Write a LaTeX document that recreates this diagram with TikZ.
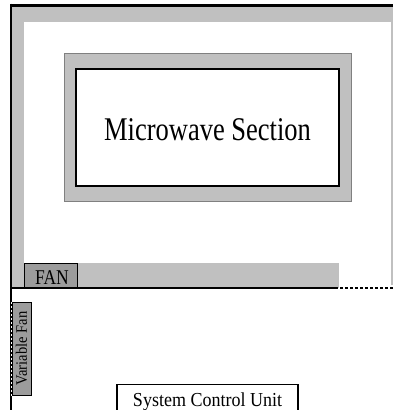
\documentclass[tikz,border=0pt]{standalone}
\usepackage{fontspec}
\setmainfont{Liberation Serif}
\definecolor{lgray}{HTML}{C0C0C0}
\definecolor{dgray}{HTML}{9C9C9C}
\tikzset{
  frame/.style={line width=3pt,black},
  band/.style={fill=lgray,draw=none},
  fanbox/.style={fill=dgray,draw=black,line width=1pt,inner sep=0pt},
  label/.style={draw=black,line width=1.2pt,fill=white,inner sep=0pt},
  txt/.style={inner sep=0pt,anchor=base},
  whitedots/.style={white,line width=1pt,dash pattern=on 2pt off 2pt}
}
\begin{document}
\begin{tikzpicture}[x=1pt,y=-1pt]
\useasboundingbox (0,0) rectangle (393,410);
\clip (0,0) rectangle (393,410);
\fill[white] (0,0) rectangle (393,410);
% gray bands of the upper enclosure
\fill[band] (12,7) rectangle (393,22);
\fill[band] (12,7) rectangle (24,288);
\fill[band] (391,22) rectangle (393,285);
\fill[band] (24,263) rectangle (339,288);
% microwave section
\node[fill=lgray,draw=gray,line width=0.8pt,minimum width=287pt,minimum height=148pt,inner sep=0pt] (mwo) at (207.5,127) {};
\node[fill=white,draw=black,line width=2.5pt,minimum width=263pt,minimum height=117pt,inner sep=0pt] (mw) at (207.5,127.5) {};
\node[txt,font=\fontsize{26.5}{30}\selectfont] (mwt) at (207.5,140) {\scalebox{1}[1.25]{Microwave Section}};
% FAN
\node[fanbox,minimum width=53pt,minimum height=24pt] (fan) at (50.5,275) {};
\node[txt,font=\fontsize{17.5}{20}\selectfont] (fant) at (52,284) {\scalebox{1}[1.2]{FAN}};
% frame lines
\coordinate (tl) at (10,5);
\coordinate (tr) at (393,5);
\coordinate (bl) at (11,410);
\coordinate (ml) at (11,288);
\coordinate (ms) at (335,288);
\coordinate (mr) at (393,288);
\draw[frame] (tl) -- (tr);
\draw[line width=2.5pt] (11,3.5) -- (bl);
\draw[line width=2.5pt] (ml) -- (ms);
\draw[line width=2.5pt,dash pattern=on 2.5pt off 2.5pt] (ms) -- (mr);
\draw[whitedots] (27,289) -- (73,289);
% variable fan
\node[fanbox,rotate=90,minimum width=93pt,minimum height=19pt,font=\fontsize{14.5}{16}\selectfont] (vf) at (21.5,348.5) {\scalebox{1}[1.1]{Variable Fan}};
\draw[whitedots] (vf.north west) -- (vf.north east);
% system control unit
\node[label,minimum width=181pt,minimum height=30pt,anchor=north] (scu) at (207.5,384) {};
\node[txt,font=\fontsize{18}{20}\selectfont] (scut) at (207.5,406) {\scalebox{1}[1.1]{System Control Unit}};
\end{tikzpicture}
\end{document}
